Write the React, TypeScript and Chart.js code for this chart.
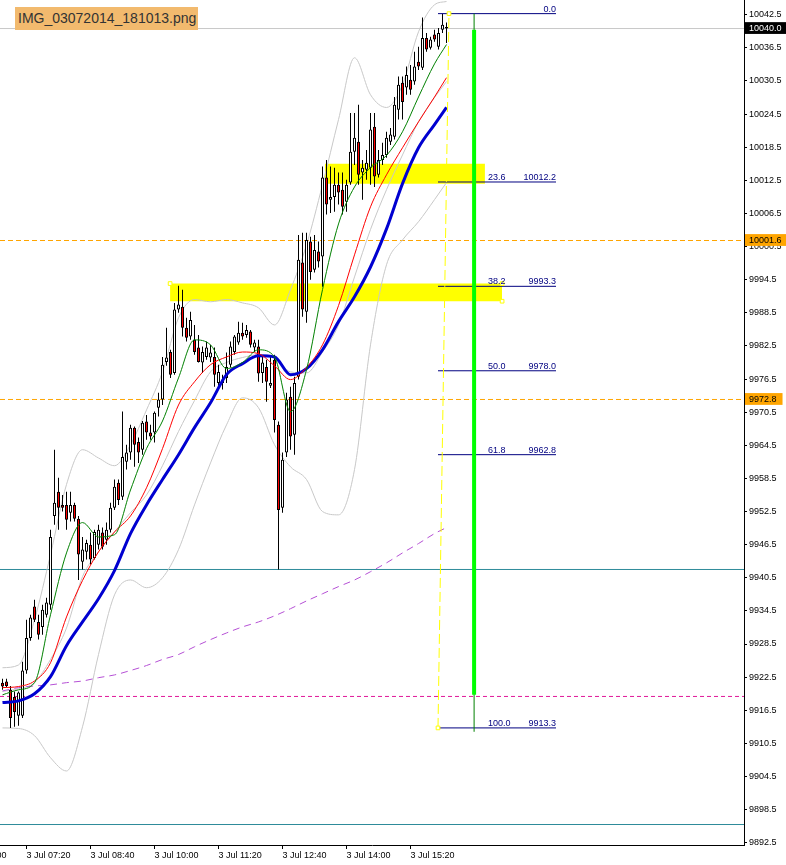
import React, { useEffect, useRef } from "react";
import { Chart, registerables } from "chart.js";

Chart.register(...registerables);

// ---------- candles (5-minute bars, 3 Jul 06:50 .. 16:05) ----------
const barOpen = [9921.5, 9921.7, 9920.2, 9918.9, 9915.5, 9915.5, 9923.7, 9929.6, 9935.3, 9932.5,
  9931.6, 9933.8, 9935.6, 9951.7, 9956.1, 9953.7, 9953.7, 9952.3, 9953.7, 9951.2,
  9943.4, 9945.2, 9946.5, 9944.1, 9946.5, 9948.7, 9947.4, 9949.2, 9953.2, 9957.7,
  9955.2, 9961.5, 9963.2, 9967.7, 9965.1, 9963.7, 9968.8, 9966.8, 9966.8, 9971.3,
  9972.8, 9979.6, 9981.4, 9977.6, 9989.1, 9989.6, 9985.8, 9984.2, 9983.6, 9982.2,
  9979.5, 9980.5, 9980.4, 9980.5, 9975.8, 9976.4, 9976.7, 9979.1, 9981.4, 9983.1,
  9984.9, 9984.5, 9985.1, 9982.2, 9982.4, 9977.6, 9978.7, 9975.3, 9980.0, 9968.2,
  9953.2, 9963.2, 9973.3, 9966.4, 9976.9, 9997.6, 9988.7, 10001.4, 9996.3, 9999.6,
  9998.7, 10013.0, 10009.0, 10009.5, 10011.7, 10010.8, 10008.6, 10012.1, 10017.7, 10019.5,
  10013.9, 10014.4, 10014.8, 10022.2, 10013.5, 10016.2, 10017.1, 10019.5, 10020.4, 10025.3,
  10030.2, 10029.3, 10030.7, 10030.4, 10034.0, 10032.9, 10038.3, 10036.5, 10038.9, 10036.7,
  10039.8, 10040.3];
const barHigh = [9922.2, 9922.2, 9920.9, 9919.9, 9919.9, 9925.3, 9932.9, 9933.8, 9936.5, 9933.8,
  9935.6, 9936.9, 9949.2, 9963.7, 9958.6, 9955.5, 9956.1, 9956.1, 9954.1, 9951.7,
  9947.9, 9947.4, 9948.7, 9949.2, 9950.1, 9949.6, 9950.5, 9954.1, 9958.3, 9958.3,
  9970.6, 9964.6, 9968.2, 9967.9, 9965.9, 9968.9, 9970.0, 9968.2, 9970.6, 9974.0,
  9980.5, 9985.8, 9981.8, 9990.3, 9993.4, 9992.7, 9987.6, 9988.7, 9986.3, 9984.5,
  9982.4, 9983.3, 9982.7, 9982.2, 9979.1, 9977.3, 9981.3, 9983.3, 9984.5, 9986.9,
  9986.7, 9986.3, 9985.4, 9983.6, 9983.6, 9980.5, 9980.0, 9980.5, 9980.9, 9968.8,
  9963.2, 9974.0, 9975.1, 9976.9, 10002.6, 10003.0, 10003.0, 10002.3, 10002.6, 10001.4,
  10015.0, 10016.2, 10015.0, 10014.8, 10013.9, 10013.9, 10012.6, 10024.7, 10024.7, 10026.2,
  10016.2, 10018.0, 10024.7, 10024.7, 10018.0, 10019.3, 10021.3, 10022.0, 10027.6, 10031.3,
  10031.3, 10033.1, 10033.4, 10035.8, 10036.7, 10042.0, 10039.2, 10038.5, 10039.8, 10040.1,
  10042.7, 10041.1];
const barLow = [9920.2, 9920.6, 9913.3, 9913.5, 9913.7, 9915.1, 9923.1, 9929.1, 9932.5, 9929.3,
  9930.2, 9933.3, 9934.7, 9950.1, 9949.2, 9952.5, 9949.2, 9950.7, 9950.7, 9940.1,
  9942.0, 9943.8, 9942.9, 9943.8, 9945.6, 9945.6, 9946.5, 9948.7, 9952.8, 9953.7,
  9954.6, 9960.1, 9961.9, 9960.6, 9961.3, 9962.8, 9965.5, 9965.5, 9965.0, 9969.7,
  9971.8, 9978.9, 9976.7, 9977.3, 9988.5, 9984.2, 9983.3, 9983.6, 9980.9, 9979.5,
  9977.6, 9980.0, 9979.6, 9975.1, 9975.3, 9974.6, 9975.8, 9978.6, 9980.9, 9982.7,
  9983.6, 9984.0, 9982.2, 9981.4, 9976.0, 9975.8, 9972.4, 9974.9, 9966.8, 9942.0,
  9952.3, 9962.4, 9963.7, 9962.8, 9976.4, 9987.8, 9986.7, 9994.5, 9995.8, 9996.7,
  9993.2, 10006.3, 10006.6, 10006.8, 10008.1, 10006.3, 10006.8, 10011.7, 10015.3, 10011.7,
  10009.0, 10012.6, 10011.7, 10011.3, 10013.0, 10015.3, 10016.6, 10018.9, 10019.9, 10023.5,
  10023.5, 10028.0, 10028.0, 10029.8, 10032.5, 10032.5, 10035.8, 10036.2, 10037.6, 10036.2,
  10039.2, 10037.4];
const barClose = [9920.8, 9920.9, 9915.1, 9916.2, 9919.7, 9923.7, 9929.6, 9933.3, 9932.9, 9930.2,
  9934.7, 9936.0, 9947.9, 9954.1, 9953.2, 9953.2, 9951.0, 9953.7, 9951.2, 9944.7,
  9945.6, 9946.8, 9943.8, 9948.8, 9949.2, 9946.1, 9949.2, 9953.2, 9957.0, 9954.6,
  9962.4, 9963.2, 9967.7, 9964.6, 9963.2, 9968.6, 9966.8, 9966.1, 9970.4, 9972.8,
  9979.1, 9980.4, 9977.3, 9989.1, 9990.0, 9985.8, 9984.0, 9987.2, 9981.4, 9979.6,
  9981.4, 9982.2, 9981.3, 9977.3, 9977.8, 9975.8, 9978.7, 9982.4, 9984.2, 9984.9,
  9984.2, 9985.4, 9982.7, 9983.1, 9977.5, 9979.5, 9976.0, 9975.8, 9969.1, 9952.8,
  9961.9, 9972.8, 9966.1, 9975.8, 9998.1, 9989.1, 10001.7, 9995.9, 9999.9, 9997.8,
  10013.0, 10008.1, 10009.5, 10011.7, 10010.3, 10007.7, 10011.7, 10017.7, 10020.2, 10013.5,
  10014.8, 10015.7, 10021.7, 10013.2, 10016.2, 10017.1, 10020.2, 10020.8, 10026.2, 10029.8,
  10026.7, 10031.6, 10028.9, 10033.1, 10033.1, 10038.3, 10036.2, 10038.0, 10038.0, 10039.2,
  10040.7, 10040.0];

// ---------- indicator readings (bar index -> price) ----------
const maIdx = [0, 4, 8, 12, 16, 20, 24, 28, 32, 36, 40, 44, 48, 52, 56, 60, 64, 68, 72, 76, 80, 84, 88, 92, 96, 100, 104, 108, 111];
const maGreen = [9919.3, 9920.2, 9921.5, 9933.8, 9945.0, 9950.5, 9947.9, 9948.3, 9956.4, 9963.9, 9968.9, 9976.7, 9983.6, 9982.7, 9978.4, 9979.5, 9981.8, 9980.5, 9970.6, 9978.2, 9992.7, 10004.6, 10011.3, 10014.8, 10017.0, 10021.3, 10027.6, 10033.6, 10037.1];
const maRed = [9920.6, 9920.8, 9921.8, 9925.1, 9933.4, 9940.0, 9945.2, 9948.8, 9951.7, 9956.8, 9963.9, 9971.8, 9976.0, 9979.1, 9980.5, 9981.4, 9981.1, 9978.9, 9976.4, 9978.6, 9982.7, 9989.8, 9999.0, 10007.7, 10013.5, 10018.4, 10023.1, 10027.6, 10031.1];
const maBlue = [9917.9, 9918.2, 9919.5, 9922.6, 9928.2, 9932.5, 9936.7, 9941.8, 9948.5, 9953.7, 9958.3, 9962.8, 9967.7, 9972.2, 9977.3, 9979.3, 9980.7, 9980.5, 9977.3, 9978.4, 9981.8, 9986.9, 9991.4, 9996.8, 10003.7, 10011.9, 10018.4, 10022.6, 10025.7];
const bandUpper = [9924.2, 9924.7, 9932.9, 9944.7, 9957.4, 9963.7, 9962.2, 9960.8, 9964.6, 9970.9, 9977.8, 9987.6, 9990.9, 9990.5, 9990.9, 9990.3, 9989.4, 9986.3, 9992.7, 10000.8, 10011.7, 10023.5, 10034.7, 10028.0, 10025.7, 10029.8, 10039.4, 10044.3, 10044.9];
const bandMiddle = [9919.9, 9920.4, 9921.5, 9925.7, 9931.4, 9940.7, 9945.2, 9948.8, 9952.3, 9955.5, 9960.8, 9967.0, 9972.6, 9977.8, 9979.5, 9980.4, 9980.9, 9980.4, 9977.8, 9977.6, 9981.4, 9986.3, 9995.0, 10003.6, 10010.8, 10017.1, 10023.1, 10027.5, 10030.4];
const bandLower = [9913.3, 9913.2, 9911.9, 9907.9, 9905.5, 9913.5, 9926.6, 9937.4, 9940.1, 9938.7, 9940.5, 9945.6, 9953.7, 9961.3, 9968.2, 9973.1, 9971.3, 9964.6, 9960.6, 9958.3, 9952.5, 9951.9, 9960.1, 9982.7, 9997.2, 10001.7, 10005.0, 10009.0, 10012.1];
const maPurple = [9920.0, 9920.6, 9920.9, 9921.1, 9921.5, 9921.8, 9922.4, 9922.9, 9923.7, 9924.6, 9925.7, 9926.6, 9928.0, 9929.3, 9930.5, 9931.6, 9932.5, 9933.6, 9934.9, 9936.3, 9937.6, 9938.9, 9940.1, 9941.6, 9943.2, 9945.0, 9946.7, 9948.5, 9949.6];

// ---------- axes ----------
const timeTickIdx = [-10, 6, 22, 38, 54, 70, 86, 102];
const timeTickLabels = ["3 Jul 06:00", "3 Jul 07:20", "3 Jul 08:40", "3 Jul 10:00", "3 Jul 11:20", "3 Jul 12:40", "3 Jul 14:00", "3 Jul 15:20"];
const priceTicks = [9892.5, 9898.5, 9904.5, 9910.5, 9916.5, 9922.5, 9928.5, 9934.5, 9940.5, 9946.5, 9952.5, 9958.5, 9964.5, 9970.5, 9976.5, 9982.5, 9988.5, 9994.5, 10000.5, 10006.5, 10012.5, 10018.5, 10024.5, 10030.5, 10036.5, 10042.5];
const markedPrices = [10040.0, 10001.6, 9972.8];

// ---------- objects ----------
const bidPrice = 10040.0;
const orangeLevels = [10001.6, 9972.8];
const magentaLevel = 9919.0;
const tealLevels = [9942.0, 9895.8];
const fibLevels = [0.0, 23.6, 38.2, 50.0, 61.8, 100.0];
const fibPrices = [10042.7, 10012.2, 9993.3, 9978.0, 9962.8, 9913.3];
const fibStartIdx = 108.875;
const fibEndIdx = 138.375;
const fibTrendIdx = [108.875, 111.625];
const fibTrendPrices = [9913.3, 10042.7];
const rectIdx = [[80.6, 120.6], [41.9, 124.9]];
const rectTop = [10015.5, 9993.8];
const rectBottom = [10011.9, 9990.6];
const markerIdx = [41.9, 124.9, 124.9, 108.875, 111.625];
const markerPrices = [9993.8, 9993.8, 9990.6, 9913.3, 10042.7];
const greenBarIdx = 117.9;
const greenThin = [9912.6, 10042.7];
const greenThick = [9919.3, 10039.8];

const X_MIN = -0.625;
const X_MAX = 185.375;
const Y_MAX = 10045.169;
const Y_MIN = Y_MAX - 845 / 5.52;
const FONT = '"Liberation Sans", Arial, sans-serif';

export default function App() {
  const ref = useRef<HTMLCanvasElement>(null);

  useEffect(() => {
    const canvas = ref.current;
    if (!canvas) return;
    const idx = barOpen.map((_, i) => i);
    const series = (vals: number[]) => maIdx.map((x, k) => ({ x, y: vals[k] }));
    const hline = (y: number) => [{ x: X_MIN, y }, { x: X_MAX, y }];
    const flat = { pointRadius: 0, pointHoverRadius: 0 };

    const datasets: any[] = [];
    rectIdx.forEach((r, k) => {
      datasets.push({
        type: "line", order: 100, ...flat, borderWidth: 0, borderColor: "rgba(0,0,0,0)",
        backgroundColor: "#ffff00", fill: { value: rectBottom[k] },
        data: [{ x: r[0], y: rectTop[k] }, { x: r[1], y: rectTop[k] }],
      });
    });
    datasets.push({ type: "line", order: 95, ...flat, borderWidth: 1, borderColor: "#c8c8c8", data: hline(bidPrice) });
    orangeLevels.forEach((p) =>
      datasets.push({ type: "line", order: 95, ...flat, borderWidth: 1, borderColor: "#ffa500", borderDash: [5, 3], data: hline(p) })
    );
    datasets.push({ type: "line", order: 95, ...flat, borderWidth: 1, borderColor: "#e0189a", borderDash: [4, 3], data: hline(magentaLevel) });
    tealLevels.forEach((p) =>
      datasets.push({ type: "line", order: 95, ...flat, borderWidth: 1, borderColor: "#2e8b9a", data: hline(p) })
    );
    [bandUpper, bandMiddle, bandLower].forEach((b) =>
      datasets.push({ type: "line", order: 90, ...flat, borderWidth: 1, borderColor: "#c8c8c8", cubicInterpolationMode: "monotone", data: series(b) })
    );
    datasets.push({ type: "line", order: 88, ...flat, borderWidth: 1, borderColor: "#b550d5", borderDash: [7, 5], cubicInterpolationMode: "monotone", data: series(maPurple) });
    datasets.push({
      type: "bar", order: 80, grouped: false, barThickness: 1, inflateAmount: 0, borderWidth: 0,
      backgroundColor: "#000000", data: idx.map((i) => ({ x: i, y: [barLow[i], barHigh[i]] })),
    });
    datasets.push({
      type: "bar", order: 75, grouped: false, barThickness: 3, inflateAmount: 0, borderWidth: 1,
      borderSkipped: false, borderColor: "#000000",
      backgroundColor: idx.map((i) => (barClose[i] >= barOpen[i] ? "#ffffff" : "#ff0000")),
      data: idx.map((i) => ({ x: i, y: [barOpen[i], barClose[i]] })),
    });
    datasets.push({ type: "line", order: 60, ...flat, borderWidth: 3, borderColor: "#0000d0", cubicInterpolationMode: "monotone", data: series(maBlue) });
    datasets.push({ type: "line", order: 58, ...flat, borderWidth: 1, borderColor: "#ff0000", cubicInterpolationMode: "monotone", data: series(maRed) });
    datasets.push({ type: "line", order: 56, ...flat, borderWidth: 1, borderColor: "#008000", cubicInterpolationMode: "monotone", data: series(maGreen) });
    fibPrices.forEach((p) =>
      datasets.push({ type: "line", order: 20, ...flat, borderWidth: 1, borderColor: "#000080", data: [{ x: fibStartIdx, y: p }, { x: fibEndIdx, y: p }] })
    );
    datasets.push({
      type: "line", order: 18, ...flat, borderWidth: 1, borderColor: "#ffff00", borderDash: [10, 4],
      data: fibTrendIdx.map((x, k) => ({ x, y: fibTrendPrices[k] })),
    });
    datasets.push({
      type: "line", order: 16, ...flat, borderWidth: 1, borderColor: "#008000",
      data: greenThin.map((y) => ({ x: greenBarIdx, y })),
    });
    datasets.push({
      type: "line", order: 15, ...flat, borderWidth: 4, borderColor: "#00ff00",
      data: greenThick.map((y) => ({ x: greenBarIdx, y })),
    });
    datasets.push({
      type: "line", order: 10, showLine: false, pointStyle: "rect", pointRadius: 2.6, pointHoverRadius: 2.6,
      pointBorderWidth: 1, pointBorderColor: "#ffff00", pointBackgroundColor: "#ffffff", clip: false,
      data: markerIdx.map((x, k) => ({ x, y: markerPrices[k] })),
    });

    const fibText = {
      id: "fibText",
      afterDatasetsDraw(chart: any) {
        const { ctx, scales } = chart;
        const xs = scales.x;
        const ys = scales.y;
        const xEnd = xs.getPixelForValue(fibEndIdx);
        ctx.save();
        ctx.font = `9px ${FONT}`;
        ctx.fillStyle = "#000080";
        ctx.textBaseline = "alphabetic";
        fibLevels.forEach((lv, k) => {
          const py = ys.getPixelForValue(fibPrices[k]) - 2;
          if (k === 0) {
            ctx.textAlign = "right";
            ctx.fillText(lv.toFixed(1), xEnd, py);
            return;
          }
          ctx.textAlign = "left";
          ctx.fillText(lv.toFixed(1), xEnd - 68, py);
          ctx.textAlign = "right";
          ctx.fillText(fibPrices[k].toFixed(1), xEnd, py);
        });
        ctx.restore();
      },
    };

    const markIndex = (ctx: any) => (ctx && ctx.tick ? markedPrices.indexOf(ctx.tick.value) : -1);

    const chart = new Chart(canvas, {
      type: "bar",
      data: { datasets },
      plugins: [fibText],
      options: {
        responsive: false,
        animation: false,
        devicePixelRatio: 1,
        events: [],
        layout: { padding: 0, autoPadding: false },
        plugins: { legend: { display: false }, tooltip: { enabled: false } },
        scales: {
          x: {
            type: "linear", min: X_MIN, max: X_MAX, offset: false, position: "bottom",
            grid: { display: true, drawOnChartArea: false, drawTicks: true, tickLength: 4, color: "#000000", offset: false },
            border: { display: true, color: "#000000" },
            afterBuildTicks: (s: any) => { s.ticks = timeTickIdx.map((v) => ({ value: v })); },
            afterFit: (s: any) => { s.height = 20; s.paddingLeft = 0; s.paddingRight = 0; },
            ticks: {
              autoSkip: false, maxRotation: 0, minRotation: 0, align: "start", padding: 1, color: "#000000",
              font: { family: FONT, size: 9 },
              callback: (v: any) => { const k = timeTickIdx.indexOf(Number(v)); return k >= 0 ? timeTickLabels[k] : ""; },
            },
          },
          y: {
            type: "linear", position: "right", min: Y_MIN, max: Y_MAX,
            grid: {
              display: true, drawOnChartArea: false, drawTicks: true, tickLength: 3, color: "#000000",
              tickColor: (c: any) => (markIndex(c) >= 0 ? "rgba(0,0,0,0)" : "#000000"),
            },
            border: { display: true, color: "#000000" },
            afterBuildTicks: (s: any) => { s.ticks = [...priceTicks, ...markedPrices].map((v) => ({ value: v })); },
            afterFit: (s: any) => { s.width = 42; s.paddingTop = 0; s.paddingBottom = 0; },
            ticks: {
              autoSkip: false, padding: 2, font: { family: FONT, size: 9 },
              color: (c: any) => (markIndex(c) === 0 ? "#ffffff" : "#000000"),
              showLabelBackdrop: (c: any) => markIndex(c) >= 0,
              backdropColor: (c: any) => (markIndex(c) === 0 ? "#000000" : "#ffa500"),
              backdropPadding: { left: 4, right: 6, top: 1, bottom: 0 },
              callback: (v: any) => Number(v).toFixed(1),
            },
          },
        },
      } as any,
    });
    return () => chart.destroy();
  }, []);

  return (
    <div style={{ position: "absolute", left: 0, top: 0, width: 786, height: 865, background: "#ffffff" }}>
      <canvas ref={ref} width={786} height={865} style={{ display: "block", width: 786, height: 865 }} />
      <div
        style={{
          position: "absolute", left: 15, top: 7, width: 183, height: 23, background: "#f2ba6e",
          font: `14px ${FONT}`, lineHeight: "23px", color: "#333333", paddingLeft: 3, boxSizing: "border-box",
          whiteSpace: "nowrap",
        }}
      >
        IMG_03072014_181013.png
      </div>
    </div>
  );
}
